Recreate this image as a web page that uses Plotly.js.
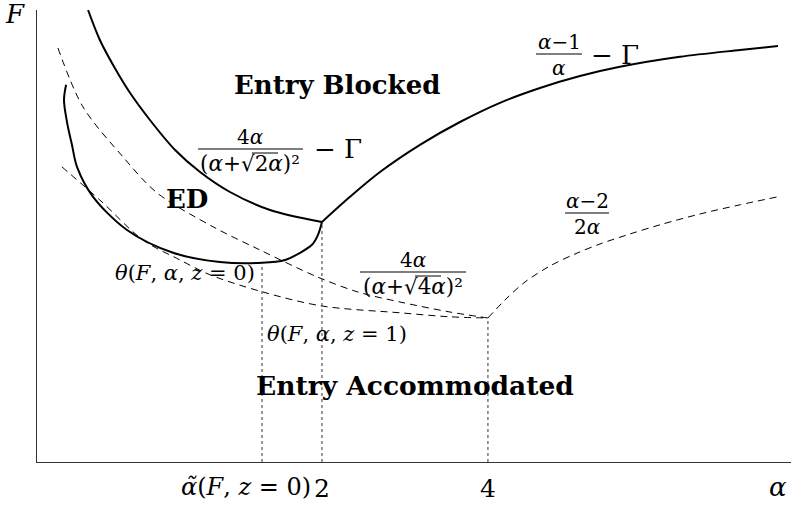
<!DOCTYPE html>
<html>
<head>
<meta charset="utf-8">
<script src="https://cdn.plot.ly/plotly-3.0.1.min.js"></script>
<style>
  html, body { margin: 0; padding: 0; background: #fff; }
  #chart { width: 801px; height: 505px; }
</style>
</head>
<body>
<div id="chart"></div>
<script>
// Entry-blocked boundary, left branch: 4α/(α+√2α)² − Γ
const blockLeftAlpha = [0.753, 0.791, 0.842, 0.897, 0.975, 1.083, 1.202, 1.362, 1.610, 2.000];
const blockLeftF     = [1.130, 1.055, 0.985, 0.923, 0.855, 0.780, 0.725, 0.675, 0.630, 0.600];

// Entry-blocked boundary, right branch: (α−1)/α − Γ
const blockRightAlpha = [2.000, 2.248, 2.548, 3.011, 3.559, 4.206, 4.970, 5.873, 6.941, 8.917, 11.46, 13.43];
const blockRightF     = [0.600, 0.663, 0.725, 0.793, 0.850, 0.898, 0.935, 0.965, 0.988, 1.013, 1.030, 1.040];

// Entry-deterrence (ED) region boundary
const edAlpha = [0.687, 0.681, 0.690, 0.704, 0.719, 0.769, 0.886, 1.074, 1.306, 1.557, 1.714, 1.825, 1.918, 1.967, 2.000];
const edF     = [0.943, 0.905, 0.848, 0.793, 0.738, 0.663, 0.580, 0.523, 0.500, 0.498, 0.505, 0.523, 0.543, 0.568, 0.600];

// θ(F, α, z = 0)
const theta0Alpha = [0.664, 0.737, 0.871, 1.004, 1.269, 1.544, 1.959, 2.324, 2.770, 3.413, 4.000];
const theta0F     = [1.035, 0.888, 0.763, 0.673, 0.588, 0.530, 0.463, 0.425, 0.400, 0.375, 0.360];

// θ(F, α, z = 1), i.e. 4α/(α+√4α)²
const theta1Alpha = [0.675, 0.791, 0.947, 1.106, 1.253, 1.563, 2.000, 2.770, 3.413, 4.000];
const theta1F     = [0.738, 0.655, 0.555, 0.505, 0.468, 0.425, 0.390, 0.373, 0.363, 0.360];

// (α−2)/(2α)
const accAlpha = [4.000, 4.295, 4.669, 5.182, 5.752, 6.385, 7.237, 8.203, 9.695, 11.46, 13.43];
const accF     = [0.360, 0.405, 0.450, 0.490, 0.520, 0.545, 0.570, 0.593, 0.620, 0.643, 0.663];

// Marked α values (α̃, 2, 4) and the F where each vertical guide meets its curve
const guideAlpha = [1.557, 2, 4];
const guideTopF  = [0.498, 0.600, 0.360];
const tickAlpha  = [2, 4];
const tickText   = ['2', '4'];
const tildeLabel = '<i>α̃</i>(<i>F</i>, <i>z</i> = 0)';

const SERIF = 'DejaVu Serif';
const W = 801, H = 505;
const M = { l: 37, r: 10, t: 10, b: 43 };
const PW = W - M.l - M.r, PH = H - M.t - M.b;
const px = x => (x - M.l) / PW;          // pixel -> paper
const py = y => (H - M.b - y) / PH;

function curve(xs, ys, width, dash) {
  return {
    x: xs, y: ys, type: 'scatter', mode: 'lines', hoverinfo: 'skip',
    line: { color: '#000', width: width, dash: dash, shape: 'spline', smoothing: 0.9 }
  };
}

const traces = [
  curve(blockLeftAlpha, blockLeftF, 2, 'solid'),
  curve(blockRightAlpha, blockRightF, 2, 'solid'),
  curve(edAlpha, edF, 2, 'solid'),
  curve(theta0Alpha, theta0F, 1, '7px,5px'),
  curve(theta1Alpha, theta1F, 1, '7px,5px'),
  curve(accAlpha, accF, 1, '7px,5px')
];
// dotted guides from the α axis up to the curves
guideAlpha.forEach((a, i) => {
  traces.push({
    x: [a, a], y: [0, guideTopF[i]], type: 'scatter', mode: 'lines', hoverinfo: 'skip',
    line: { color: '#333', width: 1, dash: 'dot' }
  });
});

const annotations = [];
const shapes = [];
function label(text, x, y, size, yanchor) {
  annotations.push({
    text: text, xref: 'paper', yref: 'paper', x: px(x), y: py(y),
    xanchor: 'center', yanchor: yanchor || 'middle', showarrow: false, borderpad: 0,
    font: { family: SERIF, size: size, color: '#000' }
  });
}
function rule(x0, x1, y, w) {
  shapes.push({
    type: 'line', xref: 'paper', yref: 'paper',
    x0: px(x0), x1: px(x1), y0: py(y), y1: py(y),
    line: { color: '#000', width: w || 1.2 }
  });
}
// fraction: numerator sits on the bar, denominator hangs below it
function frac(num, den, cx, barY, x0, x1, numSize, denSize) {
  label(num, cx, barY + 1, numSize, 'bottom');
  label(den, cx, barY + 1, denSize || numSize, 'top');
  rule(x0, x1, barY);
}

// region names
label('<b>Entry Blocked</b>', 337, 85, 26);
label('<b>Entry Accommodated</b>', 415, 385, 26.5);
label('<b>ED</b>', 187, 199, 26);

// curve formulas
frac('4<i>α</i>', '(<i>α</i>+√2<i>α</i>)²', 250, 149, 198, 303, 20, 21.5);
label('− Γ', 338, 149, 26);
rule(252, 278, 153, 1);

frac('<i>α</i>−1', '<i>α</i>', 559, 54, 536, 582, 20);
label('− Γ', 615, 55, 26);

frac('<i>α</i>−2', '2<i>α</i>', 587, 213, 565, 609, 20);

frac('4<i>α</i>', '(<i>α</i>+√4<i>α</i>)²', 413, 272, 360, 466, 20, 21.5);
rule(415, 441, 276, 1);

// θ labels
label('<i>θ</i>(<i>F</i>, <i>α</i>, <i>z</i> = 0)', 185, 273, 21);
label('<i>θ</i>(<i>F</i>, <i>α</i>, <i>z</i> = 1)', 337, 334, 21);

// axis names
label('<i>F</i>', 15, 14, 26);
label('<i>α</i>', 778, 487, 26);

// label of the α̃ guide, set a little to the left of its tick
annotations.push({
  text: tildeLabel, xref: 'x', yref: 'paper',
  x: Math.log10(guideAlpha[0]), y: py(487), xshift: -16,
  xanchor: 'center', yanchor: 'middle', showarrow: false, borderpad: 0,
  font: { family: SERIF, size: 24, color: '#000' }
});

const layout = {
  width: W, height: H,
  margin: M,
  paper_bgcolor: '#fff', plot_bgcolor: '#fff',
  showlegend: false,
  xaxis: {
    type: 'log',
    range: [Math.log10(0.6084), Math.log10(14.18)],
    showgrid: false, zeroline: false,
    showline: true, linecolor: '#333', linewidth: 1.2,
    ticks: '', tickvals: tickAlpha, ticktext: tickText,
    tickangle: 0,
    tickfont: { family: SERIF, size: 25, color: '#000' },
    ticklabelstandoff: 4,
    fixedrange: true
  },
  yaxis: {
    range: [0, 1.13],
    showgrid: false, zeroline: false,
    showline: true, linecolor: '#333', linewidth: 1.2,
    showticklabels: false, ticks: '',
    fixedrange: true
  },
  annotations: annotations,
  shapes: shapes
};

Plotly.newPlot('chart', traces, layout, { staticPlot: true, displayModeBar: false });
</script>
</body>
</html>
